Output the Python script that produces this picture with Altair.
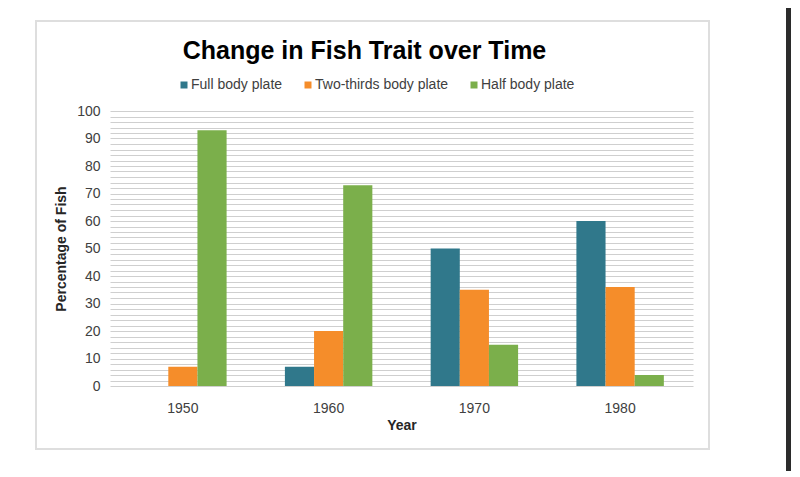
import altair as alt
import pandas as pd

years = ["1950", "1960", "1970", "1980"]
series = ["Full body plate", "Two-thirds body plate", "Half body plate"]
full_body = [0, 7, 50, 60]
two_thirds = [7, 20, 35, 36]
half_body = [93, 73, 15, 4]
colors = ["#30788B", "#F58D2A", "#7BAF4B"]
y_ticks = list(range(0, 101, 2))

rows = []
for i, yr in enumerate(years):
    for s, vals in zip(series, [full_body, two_thirds, half_body]):
        rows.append({"Year": yr, "Series": s, "Value": vals[i]})
df = pd.DataFrame(rows)

FONT = "Liberation Sans"

bars = alt.Chart(df).mark_bar().encode(
    x=alt.X(
        "Year:N",
        sort=years,
        scale=alt.Scale(paddingInner=0.4, paddingOuter=0.2),
        axis=alt.Axis(
            title="Year", labelAngle=0, ticks=False, tickSize=0, domain=False,
            labelPadding=15, titlePadding=3, grid=False,
            labelFontSize=14, labelColor="#404040", labelFont=FONT,
            titleFontSize=14, titleFontWeight="bold", titleColor="#262626", titleFont=FONT,
        ),
    ),
    xOffset=alt.XOffset("Series:N", sort=series),
    y=alt.Y(
        "Value:Q",
        scale=alt.Scale(domain=[0, 100], nice=False),
        axis=alt.Axis(
            title="Percentage of Fish", values=y_ticks,
            labelExpr="datum.value % 10 == 0 ? datum.label : ''",
            ticks=False, tickSize=0, domain=False, grid=True,
            gridColor="#cfcfcf", gridWidth=1.2,
            labelPadding=10, titlePadding=8,
            labelFontSize=14, labelColor="#404040", labelFont=FONT,
            titleFontSize=14, titleFontWeight="bold", titleColor="#262626", titleFont=FONT,
        ),
    ),
    color=alt.Color(
        "Series:N",
        sort=series,
        scale=alt.Scale(domain=series, range=colors),
        legend=alt.Legend(
            title=None, orient="none", direction="horizontal",
            legendX=67, legendY=-33, padding=0,
            symbolType="square", symbolSize=49, symbolStrokeWidth=0,
            labelOffset=0, columnPadding=18,
            labelFontSize=14, labelColor="#404040", labelFont=FONT,
        ),
    ),
)

deco = pd.DataFrame({"k": [0]})
frame = alt.Chart(deco).mark_rect(fillOpacity=0, stroke="#dedede", strokeWidth=2).encode(
    x=alt.value(-74), x2=alt.value(599), y=alt.value(-90), y2=alt.value(338)
)
sidebar = alt.Chart(deco).mark_rect(color="#2b2b2b").encode(
    x=alt.value(676), x2=alt.value(690), y=alt.value(-110), y2=alt.value(380)
)

chart = alt.layer(frame, sidebar, bars).properties(
    width=583,
    height=275,
    autosize=alt.AutoSizeParams(type="none"),
    padding={"left": 102, "top": 103, "right": 98, "bottom": 85},
    background="white",
    title=alt.TitleParams(
        text="Change in Fish Trait over Time",
        fontSize=25, fontWeight="bold", color="black", font=FONT,
        anchor="middle", frame="group", dx=-37, offset=-63,
    ),
).configure_view(strokeWidth=0)

chart.save("out.html", embed_options={"renderer": "svg", "actions": False})
